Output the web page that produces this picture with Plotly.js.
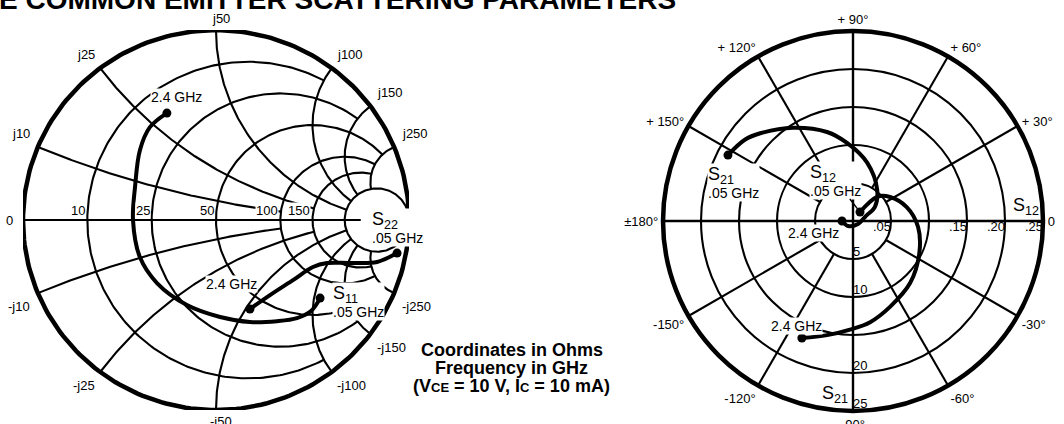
<!DOCTYPE html>
<html>
<head>
<meta charset="utf-8">
<script src="https://cdn.plot.ly/plotly-3.0.1.min.js"></script>
<style>
  html, body { margin: 0; padding: 0; background: #fff; }
  #chart { width: 1064px; height: 424px; }
</style>
</head>
<body>
<div id="chart"></div>
<script>
/**
 * Smith chart grid, in ohms (Z0 = 50)
 */
const Z0 = 50;
const resistanceCircles = [10, 25, 50, 100, 150, 250];
const resistanceCircleLimits = [100, 150, 250, 250, 250, Infinity]; // reactance where each circle stops
const reactanceArcs = [10, 25, 50, 100, 150, 250];
const reactanceArcLimits = [100, 150, 250, 250, 250, 250];         // resistance where each arc stops
const realAxisEnd = 350;
const realAxisLabels = [10, 25, 50, 100, 150];

/**
 * S11 / S22, magnitude and angle (deg), .05 GHz -> 2.4 GHz
 */
const s11_mag = [0.678, 0.687, 0.665, 0.619, 0.565, 0.511, 0.472, 0.451, 0.440, 0.430, 0.454, 0.539, 0.597, 0.618];
const s11_ang = [-37.3, -44.2, -50.9, -59.3, -71.9, -87.6, -108.6, -132.7, -153.7, 180, 157.5, 137.0, 125.0, 114.3];
const s22_mag = [0.954, 0.863, 0.730, 0.618, 0.560, 0.509, 0.484, 0.500];
const s22_ang = [-10.5, -14.8, -18.0, -21.5, -26.2, -38.4, -54.7, -69.4];

/**
 * S21 / S12 for the polar chart, .05 GHz -> 2.4 GHz
 */
const s21_mag = [18.6, 17.8, 16.8, 14.6, 12.2, 10.3, 7.9, 5.2, 3.4, 1.8, 0.77, 0.93, 1.45];
const s21_ang = [152.2, 143.1, 136.6, 122.8, 106.3, 94.4, 76.4, 52.3, 32.5, 21, -31, -135, 180];
const s12_mag = [0.015, 0.045, 0.058, 0.073, 0.086, 0.097, 0.111, 0.123, 0.135, 0.143, 0.154, 0.168];
const s12_ang = [52, 45, 33, 14.5, -5.3, -25.9, -47.4, -66.7, -80.4, -91.6, -102.8, -113.6];
const s12_scale = 100;   // S12 is drawn on the S21 rings (.05 <-> 5)

const polarRings = [5, 10, 15, 20, 25];
const s21RingLabels = [5, 10, 20, 25];
const s12RingLabels = [0.05, 0.15, 0.20, 0.25];
const angleTicks = [0, 30, 60, 90, 120, 150, 180, 210, 240, 270, 300, 330];
const angleLabels = ['0', '+ 30°', '+ 60°', '+ 90°', '+ 120°', '+ 150°', '±180°', '-150°', '-120°', '-90°', '-60°', '-30°'];
const spokeAngles = [30, 60, 120, 150, 210, 240, 300, 330];

const font = 'Liberation Sans, Arial, Helvetica, sans-serif';
const tickFont = {family: font, size: 13, color: '#000'};
const deg = Math.PI / 180;

// reflection coefficient for a normalized impedance r + jx
function gamma(r, x) {
    const d = (r + 1) * (r + 1) + x * x;
    return [(r * r + x * x - 1) / d, 2 * x / d];
}

function resistanceCircle(rOhm, xLimOhm) {
    const r = rOhm / Z0, c = r / (1 + r), R = 1 / (1 + r);
    let a0 = 0;
    if (isFinite(xLimOhm)) {
        const g = gamma(r, xLimOhm / Z0);
        a0 = Math.atan2(g[1], g[0] - c);
    }
    const xs = [], ys = [];
    for (let i = 0; i <= 240; i++) {
        const a = a0 + (2 * Math.PI - 2 * a0) * i / 240;
        xs.push(c + R * Math.cos(a));
        ys.push(R * Math.sin(a));
    }
    return [xs, ys];
}

function reactanceArc(xOhm, rLimOhm, sign) {
    const x = xOhm / Z0, R = 1 / x;
    const g0 = gamma(0, x), g1 = gamma(rLimOhm / Z0, x);
    const a0 = Math.atan2(g0[1] - R, g0[0] - 1);
    let a1 = Math.atan2(g1[1] - R, g1[0] - 1);
    if (a1 < a0) a1 += 2 * Math.PI;
    const xs = [], ys = [];
    for (let i = 0; i <= 160; i++) {
        const a = a0 + (a1 - a0) * i / 160;
        xs.push(1 + R * Math.cos(a));
        ys.push(sign * (R + R * Math.sin(a)));
    }
    return [xs, ys];
}

/**
 * Smith chart grid as one trace
 */
let gx = [], gy = [];
resistanceCircles.forEach(function (r, i) {
    const p = resistanceCircle(r, resistanceCircleLimits[i]);
    gx = gx.concat(p[0], [null]);
    gy = gy.concat(p[1], [null]);
});
reactanceArcs.forEach(function (x, i) {
    [1, -1].forEach(function (s) {
        const p = reactanceArc(x, reactanceArcLimits[i], s);
        gx = gx.concat(p[0], [null]);
        gy = gy.concat(p[1], [null]);
    });
});
gx = gx.concat([-1, gamma(realAxisEnd / Z0, 0)[0]]);
gy = gy.concat([0, 0]);

const rim = resistanceCircle(0, Infinity);

function toXY(mag, ang) {
    return [mag.map((m, i) => m * Math.cos(ang[i] * deg)), mag.map((m, i) => m * Math.sin(ang[i] * deg))];
}
const s11 = toXY(s11_mag, s11_ang);
const s22 = toXY(s22_mag, s22_ang);
const s12_r = s12_mag.map(v => v * s12_scale);

const black = '#000';
const data = [];
data.push({x: gx, y: gy, mode: 'lines', line: {color: black, width: 2.1}, hoverinfo: 'skip'});
data.push({x: rim[0], y: rim[1], mode: 'lines', line: {color: black, width: 4.5}, hoverinfo: 'skip'});
[s11, s22].forEach(function (s) {
    data.push({x: s[0], y: s[1], mode: 'lines', line: {color: black, width: 4, shape: 'spline'}, hoverinfo: 'skip'});
    data.push({x: [s[0][0], s[0][s[0].length - 1]], y: [s[1][0], s[1][s[1].length - 1]],
        mode: 'markers', marker: {color: black, size: 9}, hoverinfo: 'skip'});
});

/**
 * Polar chart: spokes, axes, curves, ring labels
 */
let sr = [], st = [];
spokeAngles.forEach(function (a) {
    sr = sr.concat([polarRings[0], polarRings[polarRings.length - 1], null]);
    st = st.concat([a, a, null]);
});
const rMax = polarRings[polarRings.length - 1];
data.push({type: 'scatterpolar', r: sr, theta: st, mode: 'lines', line: {color: black, width: 2.1}, hoverinfo: 'skip'});
data.push({type: 'scatterpolar', r: [rMax, 0, rMax, null, rMax, 0, rMax], theta: [180, 0, 0, null, 90, 0, 270],
    mode: 'lines', line: {color: black, width: 2.4}, hoverinfo: 'skip'});
[[s21_mag, s21_ang], [s12_r, s12_ang]].forEach(function (s) {
    data.push({type: 'scatterpolar', r: s[0], theta: s[1], mode: 'lines',
        line: {color: black, width: 4, shape: 'spline'}, hoverinfo: 'skip'});
    data.push({type: 'scatterpolar', r: [s[0][0], s[0][s[0].length - 1]], theta: [s[1][0], s[1][s[1].length - 1]],
        mode: 'markers', marker: {color: black, size: 9}, hoverinfo: 'skip'});
});
data.push({type: 'scatterpolar', r: s21RingLabels, theta: s21RingLabels.map(() => -90), mode: 'text',
    text: s21RingLabels.map(String), textposition: 'top right', textfont: tickFont, hoverinfo: 'skip'});
data.push({type: 'scatterpolar', r: s12RingLabels.map(v => v * s12_scale), theta: s12RingLabels.map(() => 0), mode: 'text',
    text: s12RingLabels.map(v => v.toFixed(2).replace(/^0/, '')), textposition: 'bottom left',
    textfont: tickFont, hoverinfo: 'skip'});
// empty trace so the overlay axes for the polar labels exist
data.push({x: [], y: [], xaxis: 'x2', yaxis: 'y2', hoverinfo: 'skip'});

/**
 * Labels
 */
const annotations = [];
realAxisLabels.forEach(function (r) {
    const g = gamma(r / Z0, 0);
    annotations.push({xref: 'x', yref: 'y', x: g[0], y: g[1], text: String(r), showarrow: false,
        xanchor: 'right', yanchor: 'bottom', xshift: -1, yshift: 1, bgcolor: '#fff', borderpad: 0, font: tickFont});
});
annotations.push({xref: 'x', yref: 'y', x: -1, y: 0, text: '0', showarrow: false,
    xanchor: 'right', yanchor: 'middle', xshift: -8, font: tickFont});
reactanceArcs.forEach(function (x) {
    [1, -1].forEach(function (s) {
        const g = gamma(0, s * x / Z0);
        annotations.push({xref: 'x', yref: 'y', x: g[0], y: g[1], text: (s < 0 ? '-' : '') + 'j' + x, showarrow: false,
            xanchor: g[0] < -0.25 ? 'right' : (g[0] > 0.25 ? 'left' : 'center'),
            yanchor: s > 0 ? 'bottom' : 'top', xshift: g[0] * 6 + (Math.abs(g[0]) < 0.25 ? 5 : 0),
            yshift: s * (Math.abs(g[0]) < 0.25 ? 2 : 4), font: tickFont});
    });
});

const labelFont = {family: font, size: 14, color: black};
const sBig = t => "<span style='font-size:18px'>" + t + "</span>";
const last = a => a[a.length - 1];
// Smith data labels
annotations.push({xref: 'x', yref: 'y', x: last(s11[0]), y: last(s11[1]), text: '2.4 GHz', showarrow: false,
    xanchor: 'center', yanchor: 'bottom', xshift: 10, yshift: 7, bgcolor: '#fff', borderpad: 0, font: labelFont});
annotations.push({xref: 'x', yref: 'y', x: last(s22[0]), y: last(s22[1]), text: '2.4 GHz', showarrow: false,
    xanchor: 'center', yanchor: 'bottom', xshift: -18, yshift: 16, bgcolor: '#fff', borderpad: 0, font: labelFont});
annotations.push({xref: 'x', yref: 'y', x: s11[0][0], y: s11[1][0], text: sBig('S<sub>11</sub>') + '<br>.05 GHz',
    showarrow: false, align: 'left', xanchor: 'left', yanchor: 'middle', xshift: 12, yshift: -3,
    bgcolor: '#fff', borderpad: 0, font: labelFont});
annotations.push({xref: 'x', yref: 'y', x: s22[0][0], y: s22[1][0], text: sBig('S<sub>22</sub>') + '<br>.05 GHz',
    showarrow: false, align: 'left', xanchor: 'left', yanchor: 'middle', xshift: -26, yshift: 26,
    bgcolor: '#fff', borderpad: 0, font: labelFont});

// polar data labels, placed on an overlay axis that matches the polar area
const px = (m, a) => m * Math.cos(a * deg);
const py = (m, a) => m * Math.sin(a * deg);
annotations.push({xref: 'x2', yref: 'y2', x: px(s21_mag[0], s21_ang[0]), y: py(s21_mag[0], s21_ang[0]),
    text: sBig('S<sub>21</sub>') + '<br>.05 GHz', showarrow: false, align: 'left', xanchor: 'left', yanchor: 'middle',
    xshift: -21, yshift: -27, bgcolor: '#fff', borderpad: 0, font: labelFont});
annotations.push({xref: 'x2', yref: 'y2', x: px(s12_r[0], s12_ang[0]), y: py(s12_r[0], s12_ang[0]),
    text: sBig('S<sub>12</sub>') + '<br>.05 GHz', showarrow: true, arrowhead: 0, arrowwidth: 1.5, arrowcolor: black,
    ax: -25, ay: -32, standoff: 4, align: 'left', bgcolor: '#fff', borderpad: 0, font: labelFont});
annotations.push({xref: 'x2', yref: 'y2', x: px(last(s21_mag), last(s21_ang)), y: py(last(s21_mag), last(s21_ang)),
    text: '2.4 GHz', showarrow: false, xanchor: 'right', yanchor: 'top', xshift: -2, yshift: -3,
    bgcolor: '#fff', borderpad: 0, font: labelFont});
annotations.push({xref: 'x2', yref: 'y2', x: px(last(s12_r), last(s12_ang)), y: py(last(s12_r), last(s12_ang)),
    text: '2.4 GHz', showarrow: false, xanchor: 'center', yanchor: 'bottom', xshift: -5, yshift: 3,
    bgcolor: '#fff', borderpad: 0, font: labelFont});
// scale names at the ends of the 0° and -90° axes
annotations.push({xref: 'x2', yref: 'y2', x: rMax, y: 0, text: sBig('S<sub>12</sub>'), showarrow: false,
    xanchor: 'right', yanchor: 'bottom', xshift: -2, yshift: 1, font: labelFont});
annotations.push({xref: 'x2', yref: 'y2', x: 0, y: -rMax, text: sBig('S<sub>21</sub>'), showarrow: false,
    xanchor: 'right', yanchor: 'bottom', xshift: -3, yshift: 3, font: labelFont});

// title (cut off at the top edge) and conditions note
annotations.push({xref: 'paper', yref: 'paper', x: 0, y: 1, xanchor: 'left', yanchor: 'top', xshift: -3, yshift: 18,
    text: '<b>E COMMON EMITTER SCATTERING PARAMETERS</b>', showarrow: false,
    font: {family: font, size: 28, color: black}});
const noteFont = {family: font, size: 18, color: black};
const noteLines = ['Coordinates in Ohms', 'Frequency in GHz',
    "(V<span style='font-size:13px'>CE</span> = 10 V, I<span style='font-size:13px'>C</span> = 10 mA)"];
noteLines.forEach(function (t, i) {
    annotations.push({xref: 'paper', yref: 'paper', x: 0.481, y: 0.1745 - i * 0.0425, xanchor: 'center', yanchor: 'middle',
        text: '<b>' + t + '</b>', showarrow: false, font: noteFont});
});

const hidden = {visible: false, showgrid: false, zeroline: false, fixedrange: true};
const layout = {
    width: 1064, height: 424,
    margin: {l: 0, r: 0, t: 0, b: 0},
    paper_bgcolor: '#fff', plot_bgcolor: 'rgba(0,0,0,0)',
    showlegend: false,
    font: {family: font, color: black},
    xaxis: Object.assign({domain: [0.0216, 0.3844], range: [-1, 1]}, hidden),
    yaxis: Object.assign({domain: [0.033, 0.929], range: [-1, 1]}, hidden),
    xaxis2: Object.assign({domain: [0.6231, 0.9803], range: [-25, 25], anchor: 'y2'}, hidden),
    yaxis2: Object.assign({domain: [0.0307, 0.9269], range: [-25, 25], anchor: 'x2'}, hidden),
    polar: {
        domain: {x: [0.6231, 0.9803], y: [0.0307, 0.9269]},
        bgcolor: 'rgba(0,0,0,0)',
        radialaxis: {range: [0, rMax], tickvals: polarRings, showticklabels: false, ticks: '',
            showline: false, gridcolor: black, gridwidth: 2.1},
        angularaxis: {tickvals: angleTicks, ticktext: angleLabels, showgrid: false, showline: true,
            linecolor: black, linewidth: 4.5, ticks: '', tickfont: tickFont, rotation: 0, direction: 'counterclockwise'}
    },
    annotations: annotations
};

Plotly.newPlot('chart', data, layout, {staticPlot: true});
</script>
</body>
</html>
